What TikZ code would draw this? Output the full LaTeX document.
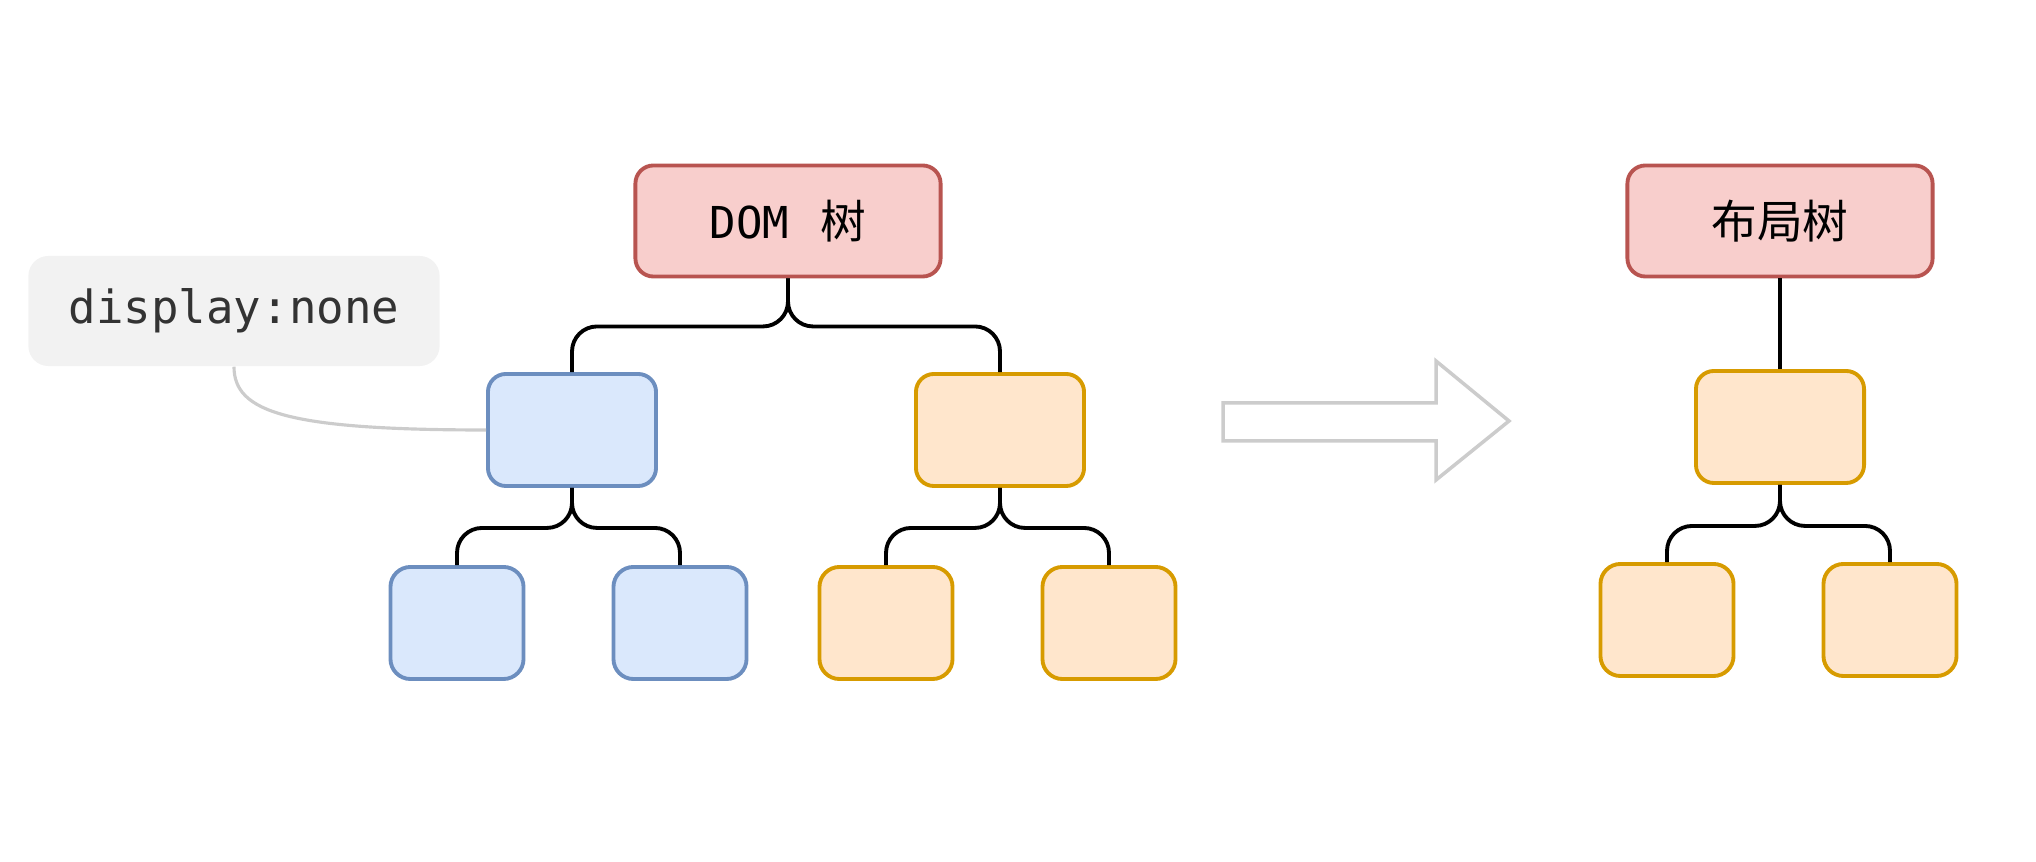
\documentclass[tikz,border=0pt]{standalone}
\usepackage{fontspec}
\newfontfamily\cjk{Noto Sans CJK SC}
\newfontfamily\codefont{DejaVu Sans Mono}
\usetikzlibrary{positioning}

\definecolor{rootfill}{HTML}{F8CECC}
\definecolor{rootline}{HTML}{B85450}
\definecolor{bluefill}{HTML}{DAE8FC}
\definecolor{blueline}{HTML}{6C8EBF}
\definecolor{orangefill}{HTML}{FFE6CC}
\definecolor{orangeline}{HTML}{D79B00}
\definecolor{notefill}{HTML}{F2F2F2}
\definecolor{notetext}{HTML}{333333}
\definecolor{paleline}{HTML}{CCCCCC}

\begin{document}
\begin{tikzpicture}[
    x=0.01cm, y=-0.01cm,
    root/.style={rectangle, draw=rootline, fill=rootfill, line width=1.1pt, rounded corners=0.18cm, minimum width=3.05cm, minimum height=1.11cm},
    midbox/.style={rectangle, line width=1.1pt, rounded corners=0.18cm, minimum width=1.68cm, minimum height=1.12cm},
    leaf/.style={rectangle, line width=1.1pt, rounded corners=0.2cm, minimum width=1.33cm, minimum height=1.12cm},
    bluebox/.style={draw=blueline, fill=bluefill},
    orangebox/.style={draw=orangeline, fill=orangefill},
    note/.style={rectangle, fill=notefill, rounded corners=0.2cm, minimum width=4.11cm, minimum height=1.1cm, text=notetext, font=\codefont\fontsize{13}{15}\selectfont},
    branch/.style={line width=1.1pt, rounded corners=0.25cm},
    noteline/.style={draw=paleline, line width=0.9pt},
    bigarrow/.style={draw=paleline, fill=white, line width=1pt, line join=miter}
]
    \useasboundingbox (0,0) rectangle (2036,862);

    % DOM tree
    \node[root] (dom) at (788,221) {{\codefont\fontsize{12.5}{14}\selectfont DOM}\hspace{0.2cm} {\cjk\fontsize{13}{15}\selectfont 树}};
    \node[midbox, bluebox] (hidden) at (572,430) {};
    \node[midbox, orangebox] (shown) at (1000,430) {};
    \node[leaf, bluebox] (hiddenl) at (457,623) {};
    \node[leaf, bluebox] (hiddenr) at (680,623) {};
    \node[leaf, orangebox] (shownl) at (886,623) {};
    \node[leaf, orangebox] (shownr) at (1109,623) {};

    \draw[branch] (dom.south) -- ++(0,48) -| (hidden.north);
    \draw[branch] (dom.south) -- ++(0,48) -| (shown.north);
    \draw[branch] (hidden.south) -- ++(0,40) -| (hiddenl.north);
    \draw[branch] (hidden.south) -- ++(0,40) -| (hiddenr.north);
    \draw[branch] (shown.south) -- ++(0,40) -| (shownl.north);
    \draw[branch] (shown.south) -- ++(0,40) -| (shownr.north);

    % display:none note
    \node[note] (hint) at (234,311) {display:none};
    \draw[noteline] (hint.south) to[out=-90, in=180, out distance=0.45cm, in distance=2cm] (hidden.west);

    % transform arrow
    \draw[bigarrow] (1223,403) -- (1436,403) -- (1436,361) -- (1509,421) -- (1436,480) -- (1436,441) -- (1223,441) -- cycle;

    % layout tree
    \node[root] (layout) at (1780,221) {\cjk\fontsize{13}{15}\selectfont 布局树};
    \node[midbox, orangebox] (kept) at (1780,427) {};
    \node[leaf, orangebox] (keptl) at (1667,620) {};
    \node[leaf, orangebox] (keptr) at (1890,620) {};

    \draw[line width=1.1pt] (layout.south) -- (kept.north);
    \draw[branch] (kept.south) -- ++(0,41) -| (keptl.north);
    \draw[branch] (kept.south) -- ++(0,41) -| (keptr.north);
\end{tikzpicture}
\end{document}
